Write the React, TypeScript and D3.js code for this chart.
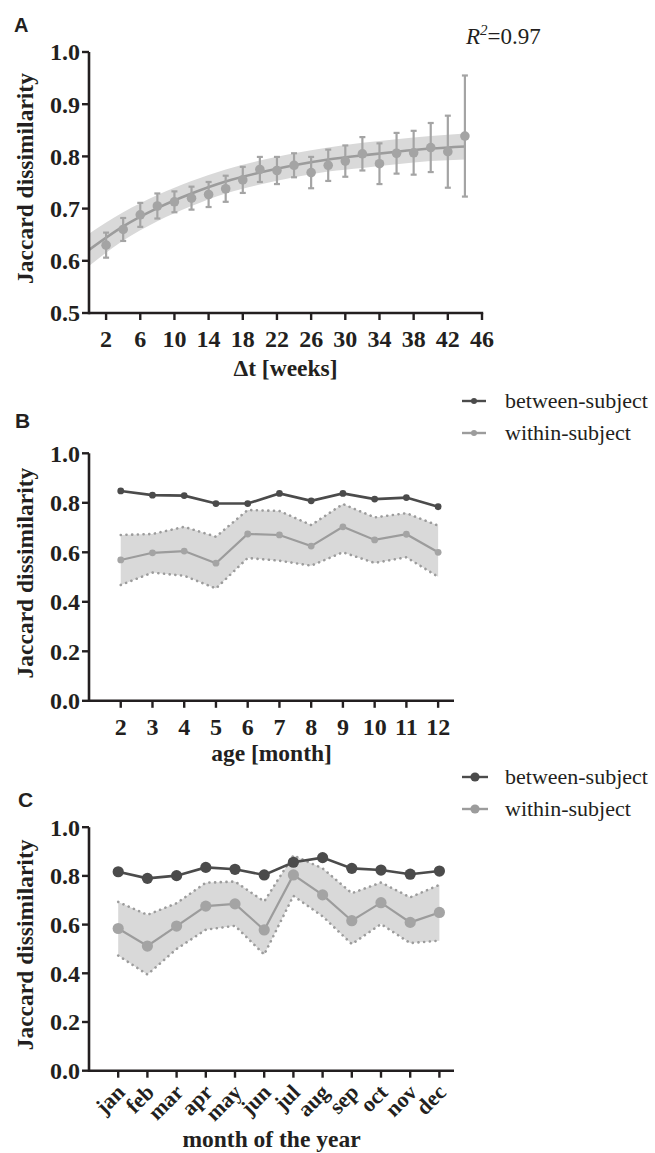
import React from 'react'
import * as d3 from 'd3'

// panel A: dissimilarity vs time gap
const weeks = [2, 4, 6, 8, 10, 12, 14, 16, 18, 20, 22, 24, 26, 28, 30, 32, 34, 36, 38, 40, 42, 44]
const weekMean = [0.630, 0.660, 0.688, 0.705, 0.713, 0.720, 0.727, 0.738, 0.755, 0.775, 0.773, 0.783, 0.769, 0.783, 0.791, 0.805, 0.786, 0.806, 0.807, 0.817, 0.809, 0.839]
const weekErr = [0.024, 0.022, 0.023, 0.024, 0.020, 0.022, 0.024, 0.025, 0.025, 0.024, 0.026, 0.023, 0.030, 0.030, 0.030, 0.032, 0.039, 0.039, 0.042, 0.047, 0.069, 0.116]
// fitted curve + confidence band
const fitT = [0, 4, 8, 12, 16, 20, 24, 28, 32, 36, 40, 44]
const fitY = [0.621, 0.666, 0.701, 0.729, 0.752, 0.769, 0.783, 0.794, 0.802, 0.809, 0.815, 0.819]
const fitHi = [0.652, 0.693, 0.726, 0.753, 0.775, 0.792, 0.806, 0.817, 0.826, 0.833, 0.839, 0.844]
const fitLo = [0.590, 0.639, 0.676, 0.705, 0.729, 0.746, 0.760, 0.771, 0.778, 0.785, 0.791, 0.794]
const xTicksA = [2, 6, 10, 14, 18, 22, 26, 30, 34, 38, 42, 46]
const yTicksA = [0.5, 0.6, 0.7, 0.8, 0.9, 1.0]

// panel B: by age
const ages = [2, 3, 4, 5, 6, 7, 8, 9, 10, 11, 12]
const ageBetween = [0.848, 0.831, 0.829, 0.797, 0.797, 0.838, 0.808, 0.838, 0.815, 0.821, 0.784]
const ageWithin = [0.569, 0.598, 0.605, 0.556, 0.674, 0.670, 0.625, 0.703, 0.650, 0.673, 0.600]
const ageUpper = [0.670, 0.674, 0.703, 0.663, 0.771, 0.767, 0.710, 0.795, 0.741, 0.758, 0.708]
const ageLower = [0.468, 0.518, 0.505, 0.454, 0.577, 0.566, 0.546, 0.600, 0.557, 0.580, 0.501]

// panel C: by month of the year
const months = ['jan', 'feb', 'mar', 'apr', 'may', 'jun', 'jul', 'aug', 'sep', 'oct', 'nov', 'dec']
const monBetween = [0.817, 0.790, 0.801, 0.835, 0.827, 0.804, 0.856, 0.875, 0.831, 0.824, 0.807, 0.820]
const monWithin = [0.584, 0.512, 0.594, 0.676, 0.685, 0.578, 0.804, 0.722, 0.616, 0.690, 0.609, 0.650]
const monUpper = [0.693, 0.640, 0.688, 0.772, 0.777, 0.695, 0.884, 0.831, 0.729, 0.773, 0.712, 0.763]
const monLower = [0.473, 0.395, 0.500, 0.579, 0.595, 0.477, 0.718, 0.634, 0.520, 0.602, 0.524, 0.534]

const yTicks01 = [0, 0.2, 0.4, 0.6, 0.8, 1.0]
const legendNames = ['between-subject', 'within-subject']

const SERIF = '"Liberation Serif", "Times New Roman", Times, serif'
const SANS = '"Liberation Sans", Arial, Helvetica, sans-serif'
const INK = '#231f20'
const DARK = '#4b4b4b'
const MID = '#9c9c9c'
const DOT = '#a4a4a4'
const BAND = '#d9d9d9'

function YAxis({y, ticks, x0, title}) {
  const [lo, hi] = y.domain()
  const mid = (y(lo) + y(hi)) / 2 - 4
  return (
    <g>
      <line x1={x0} x2={x0} y1={y(lo) + 1.2} y2={y(hi)} stroke={INK} strokeWidth={2.6} />
      {ticks.map(t => (
        <g key={t}>
          <line x1={x0 - 7} x2={x0} y1={y(t)} y2={y(t)} stroke={INK} strokeWidth={2.4} />
          <text x={x0 - 9} y={y(t)} dy="0.35em" textAnchor="end" fontFamily={SERIF} fontWeight="bold" fontSize={24} fill={INK}>
            {t.toFixed(1)}
          </text>
        </g>
      ))}
      <text transform={`translate(33,${mid}) rotate(-90)`} textAnchor="middle" fontFamily={SERIF} fontWeight="bold" fontSize={23.5} fill={INK}>
        {title}
      </text>
    </g>
  )
}

function Legend({top, r, len}) {
  const colors = [DARK, MID]
  return (
    <g>
      {legendNames.map((name, i) => {
        const cy = top + i * 32
        return (
          <g key={name}>
            <line x1={462} x2={462 + len} y1={cy} y2={cy} stroke={colors[i]} strokeWidth={2.4} />
            <circle cx={462 + len / 2} cy={cy} r={r} fill={colors[i]} />
            <text x={505} y={cy} dy="0.33em" fontFamily={SERIF} fontSize={22} fill={INK}>{name}</text>
          </g>
        )
      })}
    </g>
  )
}

function BandPanel({x, y, xs, between, within, upper, lower, r}) {
  const idx = d3.range(xs.length)
  const area = d3.area().x(i => x(xs[i])).y0(i => y(lower[i])).y1(i => y(upper[i]))
  const line = vals => d3.line().x(i => x(xs[i])).y(i => y(vals[i]))(idx)
  return (
    <g>
      <path d={area(idx)} fill={BAND} />
      <path d={line(upper)} fill="none" stroke={MID} strokeWidth={2.6} strokeDasharray="0.1 5.6" strokeLinecap="round" />
      <path d={line(lower)} fill="none" stroke={MID} strokeWidth={2.6} strokeDasharray="0.1 5.6" strokeLinecap="round" />
      <path d={line(within)} fill="none" stroke={MID} strokeWidth={2.2} />
      {idx.map(i => <circle key={'w' + i} cx={x(xs[i])} cy={y(within[i])} r={r} fill={DOT} />)}
      <path d={line(between)} fill="none" stroke={DARK} strokeWidth={2.6} />
      {idx.map(i => <circle key={'b' + i} cx={x(xs[i])} cy={y(between[i])} r={r} fill={DARK} />)}
    </g>
  )
}

export default function App() {
  const width = 655
  const height = 1153
  const x0 = 89

  // ---- A
  const xA = d3.scaleLinear().domain([0, 46]).range([x0, 482])
  const yA = d3.scaleLinear().domain([0.5, 1.0]).range([313, 52])
  const fitIdx = d3.range(fitT.length)
  const fitArea = d3.area().x(i => xA(fitT[i])).y0(i => yA(fitLo[i])).y1(i => yA(fitHi[i])).curve(d3.curveMonotoneX)
  const fitLine = d3.line().x(i => xA(fitT[i])).y(i => yA(fitY[i])).curve(d3.curveMonotoneX)

  // ---- B
  const xB = d3.scaleLinear().domain([1, 12.5]).range([x0, 454])
  const yB = d3.scaleLinear().domain([0, 1]).range([700.8, 453.3])

  // ---- C
  const xC = d3.scaleLinear().domain([0, 12.5]).range([x0, 454])
  const yC = d3.scaleLinear().domain([0, 1]).range([1070.7, 827.2])
  const monPos = months.map((m, i) => i + 1)

  return (
    <svg width={width} height={height} style={{position: 'absolute', left: 0, top: 0, background: '#fff'}}>
      {/* ================= A ================= */}
      <text x={14} y={32} fontFamily={SANS} fontWeight="bold" fontSize={20} fill={INK}>A</text>
      <text x={466} y={44} fontFamily={SERIF} fontSize={23} fill={INK}>
        <tspan fontStyle="italic">R</tspan>
        <tspan fontStyle="italic" fontSize={15} dy={-9}>2</tspan>
        <tspan dy={9}>=0.97</tspan>
      </text>
      <path d={fitArea(fitIdx)} fill={BAND} />
      <path d={fitLine(fitIdx)} fill="none" stroke={MID} strokeWidth={2.6} />
      {weeks.map((w, i) => {
        const cx = xA(w)
        const top = yA(weekMean[i] + weekErr[i])
        const bot = yA(weekMean[i] - weekErr[i])
        return (
          <g key={w}>
            <line x1={cx} x2={cx} y1={top} y2={bot} stroke={DOT} strokeWidth={2.2} />
            <line x1={cx - 3} x2={cx + 3} y1={top} y2={top} stroke={DOT} strokeWidth={2.2} />
            <line x1={cx - 3} x2={cx + 3} y1={bot} y2={bot} stroke={DOT} strokeWidth={2.2} />
            <circle cx={cx} cy={yA(weekMean[i])} r={4.8} fill={DOT} />
          </g>
        )
      })}
      <YAxis y={yA} ticks={yTicksA} x0={x0} title="Jaccard dissimilarity" />
      <line x1={x0} x2={xA(46) + 1.2} y1={yA(0.5)} y2={yA(0.5)} stroke={INK} strokeWidth={2.6} />
      {xTicksA.map(t => (
        <g key={t}>
          <line x1={xA(t)} x2={xA(t)} y1={yA(0.5)} y2={yA(0.5) + 7} stroke={INK} strokeWidth={2.4} />
          <text x={xA(t)} y={yA(0.5) + 34} textAnchor="middle" fontFamily={SERIF} fontWeight="bold" fontSize={24} fill={INK}>{t}</text>
        </g>
      ))}
      <text x={(xA(0) + xA(46)) / 2} y={376} textAnchor="middle" fontFamily={SERIF} fontWeight="bold" fontSize={23.5} fill={INK}>Δt [weeks]</text>

      {/* ================= B ================= */}
      <text x={15} y={428} fontFamily={SANS} fontWeight="bold" fontSize={21} fill={INK}>B</text>
      <Legend top={401} r={3} len={24} />
      <BandPanel x={xB} y={yB} xs={ages} between={ageBetween} within={ageWithin} upper={ageUpper} lower={ageLower} r={3.4} />
      <YAxis y={yB} ticks={yTicks01} x0={x0} title="Jaccard dissimilarity" />
      <line x1={x0} x2={xB(12.5)} y1={yB(0)} y2={yB(0)} stroke={INK} strokeWidth={2.6} />
      {ages.map(a => (
        <g key={a}>
          <line x1={xB(a)} x2={xB(a)} y1={yB(0)} y2={yB(0) + 7} stroke={INK} strokeWidth={2.4} />
          <text x={xB(a)} y={yB(0) + 34} textAnchor="middle" fontFamily={SERIF} fontWeight="bold" fontSize={24} fill={INK}>{a}</text>
        </g>
      ))}
      <text x={(xB(1) + xB(12.5)) / 2} y={761} textAnchor="middle" fontFamily={SERIF} fontWeight="bold" fontSize={23.5} fill={INK}>age [month]</text>

      {/* ================= C ================= */}
      <text x={18} y={807} fontFamily={SANS} fontWeight="bold" fontSize={21} fill={INK}>C</text>
      <Legend top={777} r={4.6} len={26} />
      <BandPanel x={xC} y={yC} xs={monPos} between={monBetween} within={monWithin} upper={monUpper} lower={monLower} r={5.6} />
      <YAxis y={yC} ticks={yTicks01} x0={x0} title="Jaccard dissimilarity" />
      <line x1={x0} x2={xC(12.5)} y1={yC(0)} y2={yC(0)} stroke={INK} strokeWidth={2.6} />
      {months.map((m, i) => (
        <g key={m}>
          <line x1={xC(i + 1)} x2={xC(i + 1)} y1={yC(0)} y2={yC(0) + 7} stroke={INK} strokeWidth={2.4} />
          <text transform={`translate(${xC(i + 1) + 8},${yC(0) + 23}) rotate(-45)`} textAnchor="end" fontFamily={SERIF} fontWeight="bold" fontSize={22} fill={INK}>{m}</text>
        </g>
      ))}
      <text x={(xC(0) + xC(12.5)) / 2} y={1147} textAnchor="middle" fontFamily={SERIF} fontWeight="bold" fontSize={23.5} fill={INK}>month of the year</text>
    </svg>
  )
}
